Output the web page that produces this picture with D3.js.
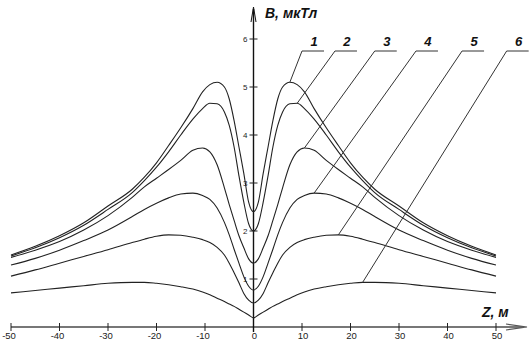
<!DOCTYPE html>
<html>
<head>
<meta charset="utf-8">
<script src="https://cdn.jsdelivr.net/npm/d3@7"></script>
<style>
    body { margin: 0; background: #fff; }
    svg { display: block; }
    .tick-label { font-family: "Liberation Sans", Arial, sans-serif; font-size: 9.5px; fill: #222; }
    .axis-title { font-family: "Liberation Sans", Arial, sans-serif; font-size: 14px; font-weight: bold; font-style: italic; fill: #111; }
</style>
</head>
<body>
<div id="chart"></div>
<script>
// distance along the ground, m
const zValues = [-50, -45, -40, -35, -30, -25, -22.5, -20, -17.5, -15, -12.5, -10.5, -9, -7.5, -6, -5, -4, -3, -2, -1,
    0, 1, 2, 3, 4, 5, 6, 7.5, 9, 10.5, 12.5, 15, 17.5, 20, 22.5, 25, 30, 35, 40, 45, 50];

// B, мкТл for curves 1..6
const curve1 = [1.5, 1.68, 1.9, 2.17, 2.52, 2.87, 3.12, 3.42, 3.78, 4.15, 4.55, 4.9, 5.05, 5.1, 5.0, 4.75, 4.3, 3.75, 3.2, 2.6,
    2.4, 2.6, 3.2, 3.75, 4.3, 4.75, 5.0, 5.1, 5.05, 4.9, 4.55, 4.15, 3.78, 3.42, 3.12, 2.87, 2.52, 2.17, 1.9, 1.68, 1.5];
const curve2 = [1.48, 1.65, 1.86, 2.12, 2.45, 2.8, 3.05, 3.33, 3.65, 4.0, 4.33, 4.55, 4.66, 4.65, 4.48, 4.2, 3.75, 3.15, 2.6, 2.15,
    2.0, 2.15, 2.6, 3.15, 3.75, 4.2, 4.48, 4.65, 4.66, 4.55, 4.33, 4.0, 3.65, 3.33, 3.05, 2.8, 2.45, 2.12, 1.86, 1.65, 1.48];
const curve3 = [1.45, 1.6, 1.78, 2.02, 2.32, 2.7, 2.92, 3.1, 3.28, 3.47, 3.68, 3.73, 3.65, 3.38, 2.9, 2.55, 2.22, 1.9, 1.65, 1.42,
    1.33, 1.42, 1.65, 1.9, 2.22, 2.55, 2.9, 3.38, 3.65, 3.73, 3.68, 3.47, 3.28, 3.1, 2.92, 2.7, 2.32, 2.02, 1.78, 1.6, 1.45];
const curve4 = [1.29, 1.43, 1.6, 1.8, 2.02, 2.3, 2.45, 2.58, 2.69, 2.77, 2.79, 2.74, 2.66, 2.48, 2.18, 1.92, 1.62, 1.33, 1.05, 0.85,
    0.77, 0.85, 1.05, 1.33, 1.62, 1.92, 2.18, 2.48, 2.66, 2.74, 2.79, 2.77, 2.69, 2.58, 2.45, 2.3, 2.02, 1.8, 1.6, 1.43, 1.29];
const curve5 = [1.06, 1.19, 1.33, 1.47, 1.61, 1.76, 1.83, 1.89, 1.92, 1.91, 1.87, 1.82, 1.76, 1.66, 1.5, 1.33, 1.13, 0.92, 0.7, 0.56,
    0.5, 0.56, 0.7, 0.92, 1.13, 1.33, 1.5, 1.66, 1.76, 1.82, 1.87, 1.91, 1.92, 1.89, 1.83, 1.76, 1.61, 1.47, 1.33, 1.19, 1.06];
const curve6 = [0.71, 0.76, 0.81, 0.86, 0.91, 0.93, 0.93, 0.91, 0.88, 0.84, 0.79, 0.73, 0.67, 0.6, 0.53, 0.48, 0.43, 0.37, 0.31, 0.25,
    0.19, 0.25, 0.31, 0.37, 0.43, 0.48, 0.53, 0.6, 0.67, 0.73, 0.79, 0.84, 0.88, 0.91, 0.93, 0.93, 0.91, 0.86, 0.81, 0.76, 0.71];

const curves = [curve1, curve2, curve3, curve4, curve5, curve6];
const curveLabels = ["1", "2", "3", "4", "5", "6"];
// x position (in m, along the top) where each label's underline starts
const labelZ = [10, 16.8, 25, 33.5, 43, 52.2];

const xTicks = [-50, -40, -30, -20, -10, 0, 10, 20, 30, 40, 50];
const yTicks = [1, 2, 3, 4, 5, 6];

const width = 531, height = 342;

let svg = d3.select("#chart").append("svg")
    .attr("width", width)
    .attr("height", height);

let x = d3.scaleLinear().domain([-50, 50]).range([11, 496]);
let y = d3.scaleLinear().domain([0, 6]).range([327, 39]);

// x axis
let xAxisG = svg.append("g");
xAxisG.append("line")
    .attr("x1", x(-50)).attr("x2", 524)
    .attr("y1", y(0)).attr("y2", y(0))
    .attr("stroke", "#777").attr("stroke-width", 2);
xAxisG.append("path")
    .attr("d", `M506,${y(0) - 3} L527,${y(0)} L506,${y(0) + 3}`)
    .attr("fill", "none").attr("stroke", "#555").attr("stroke-width", 1.2);
xAxisG.selectAll("line.xtick")
    .data(xTicks)
    .enter()
    .append("line")
    .attr("class", "xtick")
    .attr("x1", d => x(d)).attr("x2", d => x(d))
    .attr("y1", y(0) - 4).attr("y2", y(0) + 4)
    .attr("stroke", "#222").attr("stroke-width", 1);
xAxisG.selectAll("text.tick-label")
    .data(xTicks)
    .enter()
    .append("text")
    .attr("class", "tick-label")
    .attr("x", d => x(d) + (d < 0 ? -2 : 1))
    .attr("y", 339)
    .attr("text-anchor", "middle")
    .text(d => d);

// y axis
let yAxisG = svg.append("g");
yAxisG.append("line")
    .attr("x1", x(0)).attr("x2", x(0))
    .attr("y1", 332).attr("y2", 9)
    .attr("stroke", "#111").attr("stroke-width", 1.4);
yAxisG.append("path")
    .attr("d", `M${x(0) - 2.5},22 L${x(0)},7 L${x(0) + 2.5},22`)
    .attr("fill", "none").attr("stroke", "#111").attr("stroke-width", 1);
yAxisG.selectAll("line.ytick")
    .data(yTicks)
    .enter()
    .append("line")
    .attr("class", "ytick")
    .attr("x1", x(0) - 4).attr("x2", x(0) + 4)
    .attr("y1", d => y(d)).attr("y2", d => y(d))
    .attr("stroke", "#222").attr("stroke-width", 1);
yAxisG.selectAll("text.tick-label")
    .data(yTicks)
    .enter()
    .append("text")
    .attr("class", "tick-label")
    .attr("x", x(0) - 6)
    .attr("y", d => y(d) + 3)
    .attr("text-anchor", "end")
    .style("font-size", "8px")
    .text(d => d);

svg.append("text").attr("class", "axis-title")
    .attr("x", 265).attr("y", 18)
    .text("B, мкТл");
svg.append("text").attr("class", "axis-title")
    .attr("x", 482).attr("y", 317)
    .text("Z, м");

// curves
let line = d3.line()
    .x((d, i) => x(zValues[i]))
    .y(d => y(d))
    .curve(d3.curveMonotoneX);

svg.selectAll("path.curve")
    .data(curves)
    .enter()
    .append("path")
    .attr("class", "curve")
    .attr("d", d => line(d))
    .attr("fill", "none")
    .attr("stroke", "#222")
    .attr("stroke-width", 1.1);

// leader lines from the labels down to the right-hand peak of each curve
let leaders = svg.append("g");
curves.forEach((c, k) => {
    let half = d3.range(zValues.length).filter(i => zValues[i] > 0);
    let iMax = half.reduce((a, b) => c[b] > c[a] ? b : a, half[0]);
    let px = x(zValues[iMax]), py = y(c[iMax]);
    let ux = x(labelZ[k]), uy = 51;

    leaders.append("polyline")
        .attr("points", `${px},${py} ${ux},${uy} ${ux + 22},${uy}`)
        .attr("fill", "none")
        .attr("stroke", "#333")
        .attr("stroke-width", 1);

    leaders.append("text")
        .attr("class", "axis-title")
        .attr("x", ux + 12)
        .attr("y", 46)
        .attr("text-anchor", "middle")
        .style("font-size", "13px")
        .text(curveLabels[k]);
});
</script>
</body>
</html>
